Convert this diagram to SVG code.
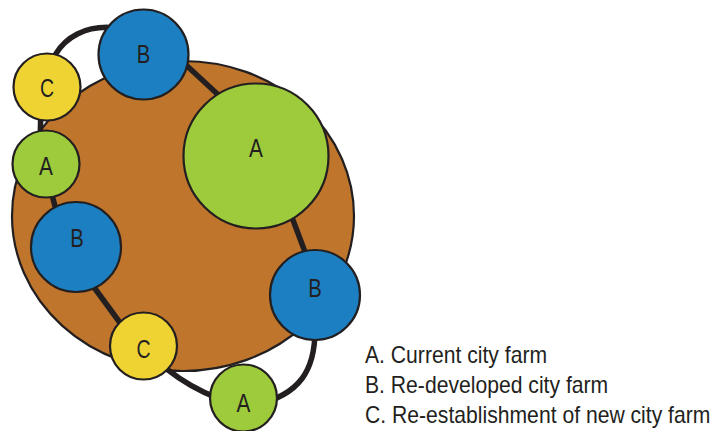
<svg xmlns="http://www.w3.org/2000/svg" width="718" height="431" viewBox="0 0 718 431">
<style>
.node{stroke:#231f20;stroke-width:2.2}
.blue{fill:#1b7fc2}.green{fill:#9dcb3b}.yellow{fill:#efd333}
.lbl{font-family:"Liberation Sans",Arial,sans-serif;font-size:26px;fill:#231f20;text-anchor:middle}
.con{fill:none;stroke:#231f20;stroke-width:5.5}
.leg{font-family:"Liberation Sans",Arial,sans-serif;font-size:23px;fill:#231f20}
</style>
<rect width="718" height="431" fill="#ffffff"/>
<g id="land"><ellipse cx="183" cy="216" rx="171" ry="155" fill="#bf762c" stroke="#231f20" stroke-width="2.2"/></g>
<g id="connectors">
<path class="con" d="M47 87 C48 35 95 15 143 35"/>
<path class="con" d="M172 52 L240 115"/>
<path class="con" d="M281 188 L311 268"/>
<path class="con" d="M315 330 C315 370 300 395 255 405"/>
<path class="con" d="M243 405 Q190 395 143 348"/>
<path class="con" d="M140 350 L85 275"/>
<path class="con" d="M48 180 L60 225"/>
<path class="con" d="M40 145 L41 105"/>
</g>
<g id="nodeB1"><circle class="node blue" cx="143.5" cy="54.5" r="45"/><text class="lbl" transform="translate(143.5 63) scale(0.78 1)">B</text></g>
<g id="nodeC1"><circle class="node yellow" cx="47" cy="87" r="33.5"/><text class="lbl" transform="translate(47 97) scale(0.75 1)">C</text></g>
<g id="nodeA1"><circle class="node green" cx="46" cy="164" r="33.5"/><text class="lbl" transform="translate(46 175) scale(0.8 1)">A</text></g>
<g id="nodeA2"><circle class="node green" cx="256" cy="156" r="72.5"/><text class="lbl" transform="translate(256 157) scale(0.8 1)">A</text></g>
<g id="nodeB2"><circle class="node blue" cx="76" cy="247" r="45"/><text class="lbl" transform="translate(77 247) scale(0.78 1)">B</text></g>
<g id="nodeB3"><circle class="node blue" cx="315" cy="295" r="45"/><text class="lbl" transform="translate(315 297) scale(0.78 1)">B</text></g>
<g id="nodeC2"><circle class="node yellow" cx="143.5" cy="346" r="33.5"/><text class="lbl" transform="translate(143.5 358) scale(0.75 1)">C</text></g>
<g id="nodeA3"><circle class="node green" cx="243.5" cy="398" r="33.5"/><text class="lbl" transform="translate(243.5 412) scale(0.8 1)">A</text></g>
<g id="legend" transform="translate(365 0) scale(0.92 1)">
<text class="leg" x="0" y="363">A. Current city farm</text>
<text class="leg" x="0" y="393">B. Re-developed city farm</text>
<text class="leg" x="0" y="423">C. Re-establishment of new city farm</text>
</g>
</svg>
